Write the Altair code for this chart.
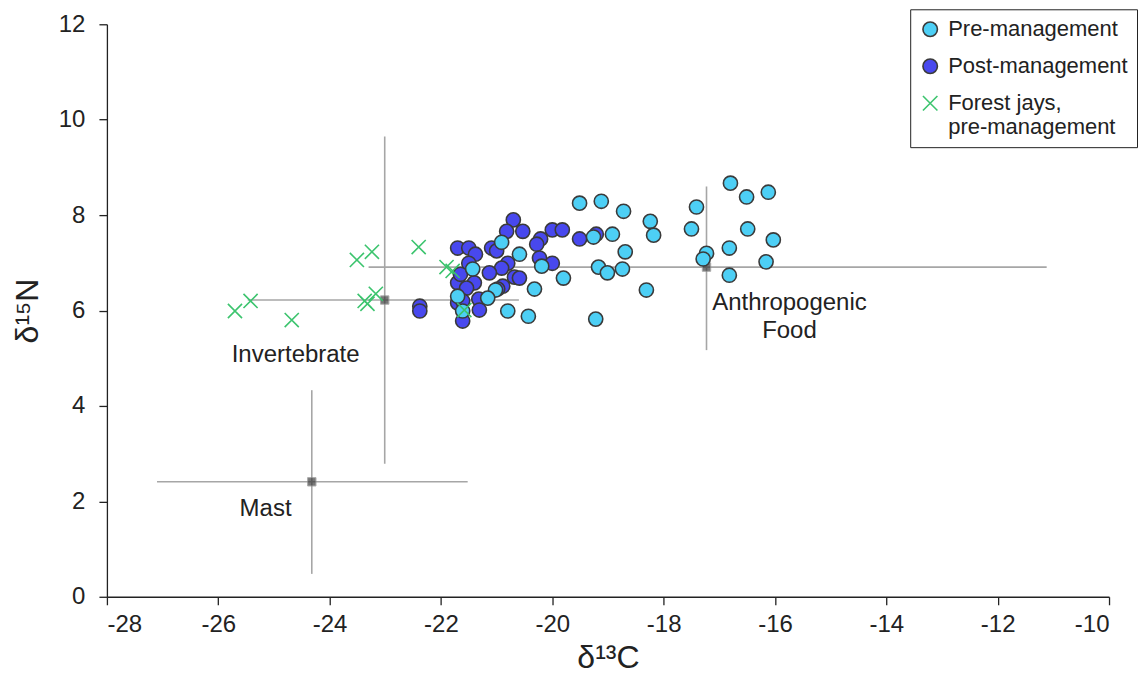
import altair as alt
import pandas as pd

# ---- data ----
pre_x = [-19.51, -19.12, -18.72, -18.24, -18.18, -18.92, -19.26, -18.69, -19.17, -19.01,
         -18.74, -18.31, -19.22, -17.41, -17.50, -17.23, -17.29, -16.80, -16.51, -16.12,
         -16.49, -16.03, -16.82, -16.16, -16.82, -20.91, -20.59, -20.19, -21.43, -19.80,
         -20.32, -21.02, -21.16, -21.70, -21.61, -20.80, -20.43]
pre_y = [8.25, 8.29, 8.08, 7.87, 7.58, 7.60, 7.54, 7.23, 6.91, 6.79,
         6.87, 6.43, 5.82, 8.17, 7.71, 7.20, 7.08, 8.67, 8.38, 8.48,
         7.71, 7.48, 7.31, 7.02, 6.74, 7.43, 7.18, 6.93, 6.87, 6.68,
         6.45, 6.43, 6.26, 6.30, 5.99, 5.99, 5.88]

post_x = [-20.70, -20.82, -20.53, -20.00, -19.82, -19.51, -20.21, -20.28, -21.70, -21.50,
          -21.38, -21.09, -21.00, -21.50, -20.23, -20.00, -20.80, -20.91, -21.13, -21.70,
          -21.40, -21.54, -21.65, -20.68, -20.59, -20.89, -20.98, -21.32, -21.70, -21.61,
          -21.31, -22.38, -22.38, -21.61, -19.21]
post_y = [7.90, 7.66, 7.66, 7.69, 7.69, 7.50, 7.50, 7.39, 7.31, 7.31,
          7.18, 7.31, 7.25, 6.99, 7.10, 6.99, 6.99, 6.89, 6.79, 6.58,
          6.58, 6.47, 6.76, 6.70, 6.68, 6.51, 6.45, 6.24, 6.16, 6.20,
          6.01, 6.09, 5.99, 5.78, 7.60]

jay_x = [-25.70, -25.42, -24.68, -23.51, -23.24, -22.40, -23.37, -23.32, -23.17, -21.90, -21.79, -21.58]
jay_y = [5.99, 6.20, 5.80, 7.06, 7.23, 7.33, 6.20, 6.14, 6.35, 6.91, 6.83, 6.01]

groups = ["Pre-management", "Post-management", "Forest jays, pre-management"]

src_name = ["Mast", "Invertebrate", "Anthropogenic Food"]
src_x = [-24.32, -23.01, -17.23]
src_y = [2.41, 6.22, 6.91]
src_xmin = [-27.10, -25.47, -23.30]
src_xmax = [-21.52, -20.60, -11.12]
src_ymin = [0.48, 2.79, 5.17]
src_ymax = [4.33, 9.65, 8.60]

lab_text = [["Mast"], ["Invertebrate"], ["Anthropogenic", "Food"]]
lab_x = [-25.15, -24.61, -15.74]
lab_y = [1.84, 5.07, 6.16]

x_ticks = list(range(-28, -9, 2))
y_ticks = list(range(0, 13, 2))

# ---- tables ----
pts = pd.concat([
    pd.DataFrame({"x": post_x, "y": post_y, "group": groups[1]}),
    pd.DataFrame({"x": pre_x, "y": pre_y, "group": groups[0]}),
    pd.DataFrame({"x": jay_x, "y": jay_y, "group": groups[2]}),
], ignore_index=True)
pts["order"] = range(len(pts))

src = pd.DataFrame({"name": src_name, "x": src_x, "y": src_y,
                    "xmin": src_xmin, "xmax": src_xmax, "ymin": src_ymin, "ymax": src_ymax})
labs = pd.DataFrame({"text": lab_text, "x": lab_x, "y": lab_y})

FONT = "Liberation Sans"
xs = alt.Scale(domain=[-28, -10], nice=False, zero=False)
ys = alt.Scale(domain=[0, 12], nice=False, zero=False)

xax = alt.Axis(values=x_ticks, title="δ¹³C", grid=False, tickSize=8,
               labelPadding=8, titlePadding=6, labelExpr="'' + datum.value")
yax = alt.Axis(values=y_ticks, title="δ¹⁵N", grid=False, tickSize=8,
               labelPadding=14, titlePadding=14, labelExpr="'' + datum.value")

base_src = alt.Chart(src)
hbar = base_src.mark_rule(color="#a6a6a6", strokeWidth=1.6).encode(
    x=alt.X("xmin:Q", scale=xs, axis=xax), x2="xmax:Q",
    y=alt.Y("y:Q", scale=ys, axis=yax))
vbar = base_src.mark_rule(color="#a6a6a6", strokeWidth=1.6).encode(
    x=alt.X("x:Q", scale=xs), y=alt.Y("ymin:Q", scale=ys), y2="ymax:Q")
means = base_src.mark_square(size=70, color="#3d3d3d", stroke="#888888", strokeWidth=1).encode(
    x=alt.X("x:Q", scale=xs), y=alt.Y("y:Q", scale=ys))

LEXPR = ("datum.label == 'Forest jays, pre-management' ? "
         "['Forest jays,', 'pre-management'] : datum.label")
leg = alt.Legend(title=None, labelExpr=LEXPR, labelLimit=400)

xpath = "M-1,-1L1,1M-1,1L1,-1"
points = alt.Chart(pts).mark_point(filled=True, size=200, strokeWidth=1.6, opacity=1).encode(
    x=alt.X("x:Q", scale=xs),
    y=alt.Y("y:Q", scale=ys),
    fill=alt.Fill("group:N", scale=alt.Scale(domain=groups,
                  range=["#4dcff5", "#4848ee", "transparent"]), legend=leg),
    stroke=alt.Stroke("group:N", scale=alt.Scale(domain=groups,
                  range=["#3a3a3a", "#3a3a3a", "#3cc46e"]), legend=leg),
    shape=alt.Shape("group:N", scale=alt.Scale(domain=groups,
                  range=["circle", "circle", xpath]), legend=leg),
    order=alt.Order("order:Q"),
)

labels = alt.Chart(labs).mark_text(font=FONT, fontSize=24, color="#222222",
                                   align="center", baseline="middle", lineHeight=28).encode(
    x=alt.X("x:Q", scale=xs), y=alt.Y("y:Q", scale=ys), text="text")

chart = alt.layer(hbar, vbar, means, points, labels).properties(
    width=1003, height=573,
    padding={"left": 3, "top": 0, "right": 0, "bottom": 0},
).configure_view(stroke=None).configure_axis(
    labelFont=FONT, titleFont=FONT, labelFontSize=24, titleFontSize=32,
    titleFontWeight="normal", labelColor="#222222", titleColor="#222222",
    domainColor="#222222", tickColor="#222222", domainWidth=1.3, tickWidth=1.3,
).configure_legend(
    orient="none", legendX=804, legendY=-15,
    strokeColor="#222222", fillColor="white", padding=9,
    labelFont=FONT, labelFontSize=22, labelColor="#222222", labelOffset=7,
    labelLimit=400, symbolSize=210, symbolStrokeWidth=1.6, rowPadding=15,
)

chart.save("out.html", embed_options={"renderer": "svg", "actions": False})
